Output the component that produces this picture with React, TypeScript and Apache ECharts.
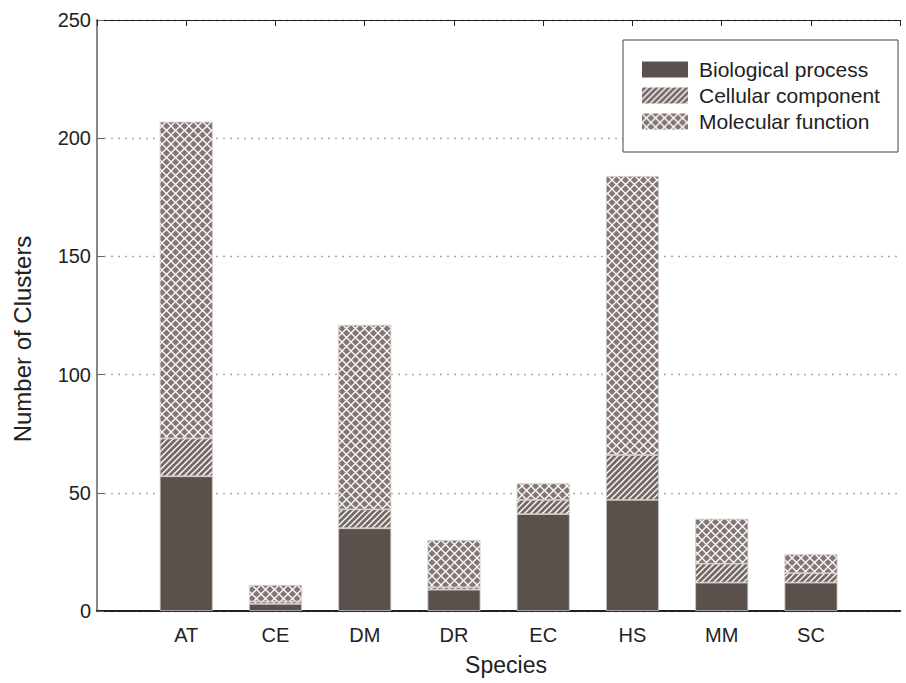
import React, { useEffect, useRef } from "react";
import * as echarts from "echarts";

const categories = ["AT", "CE", "DM", "DR", "EC", "HS", "MM", "SC"];
const biologicalProcess = [57, 3, 35, 9, 41, 47, 12, 12];
const cellularComponent = [16, 1, 8, 1, 6, 19, 8, 4];
const molecularFunction = [134, 7, 78, 20, 7, 118, 19, 8];
const seriesNames = ["Biological process", "Cellular component", "Molecular function"];
const yTicks = { min: 0, max: 250, interval: 50 };

const FONT = "'Liberation Sans', Arial, Helvetica, sans-serif";

function stripePattern(): HTMLCanvasElement {
  const c = document.createElement("canvas");
  const t = 6;
  c.width = t;
  c.height = t;
  const ctx = c.getContext("2d")!;
  ctx.fillStyle = "#756a66";
  ctx.fillRect(0, 0, t, t);
  ctx.strokeStyle = "#ffffff";
  ctx.lineWidth = 1.3;
  for (const k of [0, 1, 2]) {
    ctx.beginPath();
    ctx.moveTo(-1, k * t + 1);
    ctx.lineTo(k * t + 1, -1);
    ctx.stroke();
  }
  return c;
}

function crossPattern(): HTMLCanvasElement {
  const c = document.createElement("canvas");
  const t = 9;
  c.width = t;
  c.height = t;
  const ctx = c.getContext("2d")!;
  ctx.fillStyle = "#847773";
  ctx.fillRect(0, 0, t, t);
  ctx.strokeStyle = "#ffffff";
  ctx.lineWidth = 1.3;
  ctx.beginPath();
  ctx.moveTo(-1, -1);
  ctx.lineTo(t + 1, t + 1);
  ctx.moveTo(-1, t + 1);
  ctx.lineTo(t + 1, -1);
  ctx.stroke();
  return c;
}

export default function App() {
  const ref = useRef<HTMLDivElement>(null);
  useEffect(() => {
    if (!ref.current) return;
    const chart = echarts.init(ref.current, null, { renderer: "svg" });
    // one empty slot at each end of the category axis, as in the original plot
    const axisCats = ["", ...categories, " "];
    const padded = (arr: number[]) => ["-", ...arr, "-"];
    const colors: any[] = [
      "#5a514d",
      { image: stripePattern(), repeat: "repeat" },
      { image: crossPattern(), repeat: "repeat" },
    ];
    const data = [biologicalProcess, cellularComponent, molecularFunction];
    chart.setOption({
      animation: false,
      backgroundColor: "#ffffff",
      grid: { left: 97, right: -10, top: 20, bottom: 72, containLabel: false },
      xAxis: [
        {
          type: "category",
          data: axisCats,
          boundaryGap: false,
          position: "bottom",
          axisLine: { show: true, lineStyle: { color: "#222", width: 2 } },
          axisTick: { show: false },
          splitLine: { show: false },
          axisLabel: {
            margin: 14,
            fontSize: 20,
            fontFamily: FONT,
            color: "#222",
            interval: 0,
          },
        },
        {
          type: "category",
          data: axisCats,
          boundaryGap: false,
          position: "top",
          axisLine: { show: true, lineStyle: { color: "#222", width: 1 } },
          axisTick: { show: true, inside: true, length: 6, interval: 0, lineStyle: { color: "#222" } },
          splitLine: { show: false },
          axisLabel: { show: false },
        },
      ],
      yAxis: {
        type: "value",
        min: yTicks.min,
        max: yTicks.max,
        interval: yTicks.interval,
        axisLine: { show: true, lineStyle: { color: "#888", width: 2 } },
        axisTick: { show: true, inside: true, length: 7, lineStyle: { color: "#666" } },
        splitLine: { show: true, lineStyle: { color: "#aaa", type: [2, 5], width: 1.3 } },
        axisLabel: { margin: 6, fontSize: 20, fontFamily: FONT, color: "#222" },
      },
      legend: {
        orient: "vertical",
        left: 642,
        top: 59,
        padding: 0,
        itemWidth: 46,
        itemHeight: 16,
        itemGap: 5,
        icon: "rect",
        z: 10,
        textStyle: { fontSize: 21, fontFamily: FONT, color: "#222", padding: [0, 0, 0, 6] },
        itemStyle: { borderWidth: 0 },
        data: seriesNames,
      },
      graphic: [
        {
          type: "rect",
          z: 5,
          shape: { x: 623, y: 40, width: 275, height: 112 },
          style: { fill: "#fff", stroke: "#444", lineWidth: 1 },
        },
        {
          type: "text",
          x: 22,
          y: 339,
          rotation: Math.PI / 2,
          style: {
            text: "Number of Clusters",
            fontSize: 24,
            fontFamily: FONT,
            fill: "#222",
            align: "center",
            verticalAlign: "middle",
          },
        },
        {
          type: "text",
          x: 506,
          y: 665,
          style: {
            text: "Species",
            fontSize: 23,
            fontFamily: FONT,
            fill: "#222",
            align: "center",
            verticalAlign: "middle",
          },
        },
      ],
      series: seriesNames.map((name, i) => ({
        name,
        type: "bar",
        stack: "total",
        barWidth: 53,
        data: padded(data[i]),
        itemStyle: { color: colors[i], borderColor: "#cfcac8", borderWidth: 0.8 },
      })),
    });
    return () => chart.dispose();
  }, []);
  return (
    <div
      ref={ref}
      style={{ position: "fixed", left: 0, top: 0, width: 906, height: 683 }}
    />
  );
}
